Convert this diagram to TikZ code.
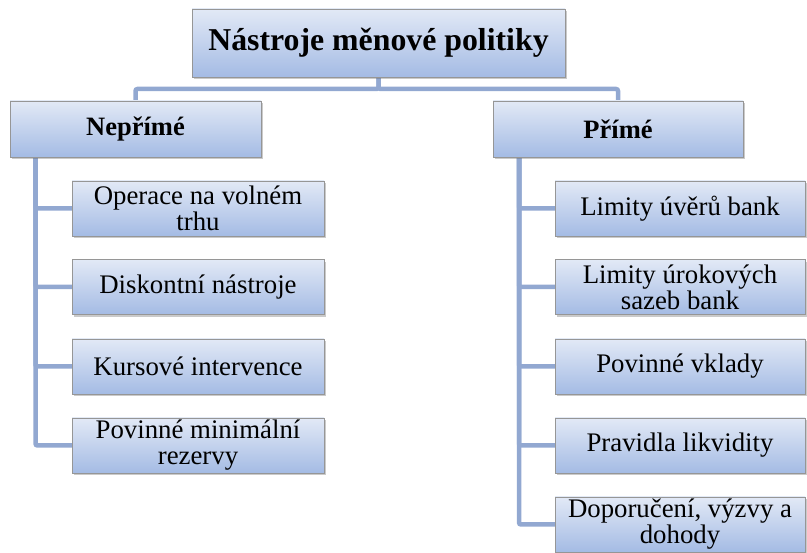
\documentclass[tikz,border=0pt]{standalone}
\usepackage{fontspec}
\setmainfont{Liberation Serif}
\usetikzlibrary{shadows}
\definecolor{linkcol}{RGB}{146,168,209}
\definecolor{boxtop}{RGB}{226,233,246}
\definecolor{boxbot}{RGB}{164,187,228}
\definecolor{boxline}{RGB}{150,150,150}
\tikzset{
  nbox/.style={draw=boxline, line width=0.8pt, top color=boxtop, bottom color=boxbot,
    drop shadow={shadow xshift=1.5pt, shadow yshift=-2.5pt, opacity=0.35, fill=black!60},
    align=center, inner sep=0pt, font=\fontsize{26.8}{26}\selectfont},
  leafL/.style={nbox, minimum width=252pt, minimum height=55pt},
  leafR/.style={nbox, minimum width=250pt, minimum height=55pt},
  midbox/.style={nbox, minimum width=251pt, minimum height=56pt, font=\fontsize{26.5}{26}\selectfont\bfseries},
  topbox/.style={nbox, minimum width=373pt, minimum height=68pt, font=\fontsize{31.8}{31}\selectfont\bfseries},
  link/.style={draw=linkcol, line width=4.5pt, rounded corners=2pt}
}
\begin{document}
\begin{tikzpicture}[x=1pt,y=-1pt]
\useasboundingbox (0,0) rectangle (807,553);
% links drawn first (behind boxes)
\coordinate (topS) at (378.5,77);
\coordinate (nepN) at (135.5,101);
\coordinate (priN) at (618,101);
\draw[link] (topS) -- ++(0,12) -| (nepN);
\draw[link] (topS) -- ++(0,12) -| (priN);
\coordinate (nepS) at (35.5,157);
\coordinate (priS) at (519,157);
\coordinate (l1) at (72,208.5);
\coordinate (l2) at (72,287);
\coordinate (l3) at (72,366.5);
\coordinate (l4) at (72,445.5);
\coordinate (q1) at (555,208.5);
\coordinate (q2) at (555,287);
\coordinate (q3) at (555,366.5);
\coordinate (q4) at (555,445.5);
\coordinate (q5) at (555,524.5);
\foreach \c in {l1,l2,l3,l4} \draw[link] (nepS) |- (\c);
\foreach \c in {q1,q2,q3,q4,q5} \draw[link] (priS) |- (\c);
% boxes
\node[topbox] (top) at (378.5,43) {Nástroje měnové politiky};
\node[midbox] (nep) at (135.5,129) {Nepřímé};
\node[midbox, minimum width=250pt] (pri) at (618,129) {Přímé};
\node[leafL] (c1) at (198,208.5) {Operace na volném\\trhu};
\node[leafL] (c2) at (198,287) {Diskontní nástroje};
\node[leafL] (c3) at (198,366.5) {Kursové intervence};
\node[leafL] (c4) at (198,445.5) {Povinné minimální\\rezervy};
\node[leafR] (r1) at (680,208.5) {Limity úvěrů bank};
\node[leafR] (r2) at (680,287) {Limity úrokových\\sazeb bank};
\node[leafR] (r3) at (680,366.5) {Povinné vklady};
\node[leafR] (r4) at (680,445.5) {Pravidla likvidity};
\node[leafR] (r5) at (680,524.5) {Doporučení, výzvy a\\dohody};
\end{tikzpicture}
\end{document}
